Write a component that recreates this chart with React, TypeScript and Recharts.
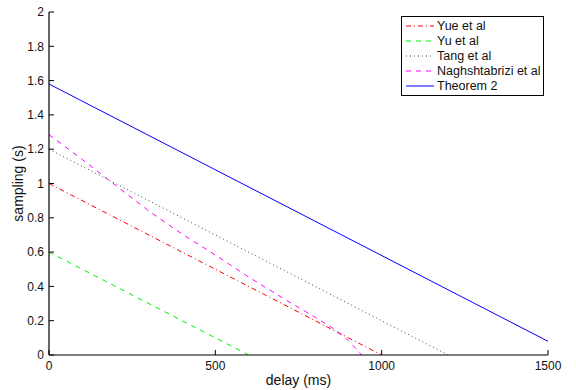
import React from 'react';
import { LineChart, Line, XAxis, YAxis, Legend } from 'recharts';

// delay in ms, sampling in s
const yueDelay = [0, 1000];
const yueSampling = [1.0, 0];

const yuDelay = [0, 600];
const yuSampling = [0.6, 0];

const tangDelay = [0, 1200];
const tangSampling = [1.2, 0];

const naghDelay = [0, 100, 200, 300, 400, 500, 600, 700, 800, 850, 900, 940];
const naghSampling = [1.285, 1.14, 0.99, 0.84, 0.705, 0.583, 0.455, 0.335, 0.22, 0.16, 0.085, 0];

const thmDelay = [0, 1500];
const thmSampling = [1.58, 0.08];

const xTicks = [0, 500, 1000, 1500];
const yTicks = [0, 0.2, 0.4, 0.6, 0.8, 1, 1.2, 1.4, 1.6, 1.8, 2];

const toPoints = (xs: number[], ys: number[]) => xs.map((x, i) => ({ delay: x, sampling: ys[i] }));

const series = [
  { name: 'Yue et al', color: '#ff0000', dash: '5 3 1 3', data: toPoints(yueDelay, yueSampling) },
  { name: 'Yu et al', color: '#00ee00', dash: '5 5', data: toPoints(yuDelay, yuSampling) },
  { name: 'Tang et al', color: '#444444', dash: '1 3', data: toPoints(tangDelay, tangSampling) },
  { name: 'Naghshtabrizi et al', color: '#ff00ff', dash: '5 5', data: toPoints(naghDelay, naghSampling) },
  { name: 'Theorem 2', color: '#0000ff', dash: undefined, data: toPoints(thmDelay, thmSampling) },
];

const FONT = '"Liberation Sans", Arial, Helvetica, sans-serif';

const LegendBox = () => (
  <div
    style={{
      border: '1px solid #000',
      background: '#fff',
      width: 141,
      padding: '1px 0 2px 0',
      fontFamily: FONT,
      fontSize: 12.5,
      color: '#111',
    }}
  >
    {series.map((s) => (
      <div key={s.name} style={{ display: 'flex', alignItems: 'center', height: 15, whiteSpace: 'nowrap' }}>
        <svg width={35} height={10} style={{ flex: 'none' }}>
          <line x1={4} x2={32} y1={5} y2={5} stroke={s.color} strokeWidth={1} strokeDasharray={s.dash} />
        </svg>
        <span>{s.name}</span>
      </div>
    ))}
  </div>
);

export default function App() {
  const tickStyle = { fontSize: 12, fill: '#111', fontFamily: FONT };
  return (
    <div style={{ position: 'absolute', left: 0, top: 0, width: 576, height: 390, background: '#fff' }}>
      <LineChart width={576} height={390} margin={{ top: 12, right: 28, bottom: 0, left: 0 }}>
        <XAxis
          dataKey="delay"
          type="number"
          domain={[0, 1500]}
          ticks={xTicks}
          interval={0}
          height={35}
          tickSize={-5}
          tickMargin={11}
          tick={tickStyle}
          axisLine={{ stroke: '#000', strokeWidth: 1.2 }}
          tickLine={{ stroke: '#000' }}
          allowDataOverflow
          label={{ value: 'delay (ms)', position: 'center', dy: 8, style: { fontSize: 14, fill: '#111', fontFamily: FONT } }}
        />
        <XAxis
          xAxisId="top"
          orientation="top"
          dataKey="delay"
          type="number"
          domain={[0, 1500]}
          ticks={xTicks}
          interval={0}
          height={0}
          tickSize={-5}
          tick={false}
          axisLine={{ stroke: '#000', strokeWidth: 1.2 }}
          tickLine={{ stroke: '#000' }}
        />
        <YAxis
          type="number"
          domain={[0, 2]}
          ticks={yTicks}
          interval={0}
          width={49}
          tickSize={-5}
          tickMargin={10}
          tick={tickStyle}
          axisLine={{ stroke: '#000', strokeWidth: 1.2 }}
          tickLine={{ stroke: '#000' }}
          allowDataOverflow
          label={{ value: 'sampling (s)', angle: -90, position: 'center', dx: -6, style: { fontSize: 14, fill: '#111', fontFamily: FONT } }}
        />
        <YAxis
          yAxisId="right"
          orientation="right"
          type="number"
          domain={[0, 2]}
          ticks={yTicks}
          interval={0}
          width={0}
          tickSize={-5}
          tick={false}
          axisLine={{ stroke: '#000', strokeWidth: 1.2 }}
          tickLine={{ stroke: '#000' }}
        />
        <Legend
          layout="vertical"
          align="center"
          verticalAlign="middle"
          content={<LegendBox />}
          wrapperStyle={{ top: 16, left: 401, width: 143, right: 'auto', bottom: 'auto' }}
        />
        {series.map((s) => (
          <Line
            key={s.name}
            name={s.name}
            data={s.data}
            dataKey="sampling"
            type="linear"
            stroke={s.color}
            strokeWidth={1}
            strokeDasharray={s.dash}
            dot={false}
            activeDot={false}
            isAnimationActive={false}
          />
        ))}
      </LineChart>
    </div>
  );
}
